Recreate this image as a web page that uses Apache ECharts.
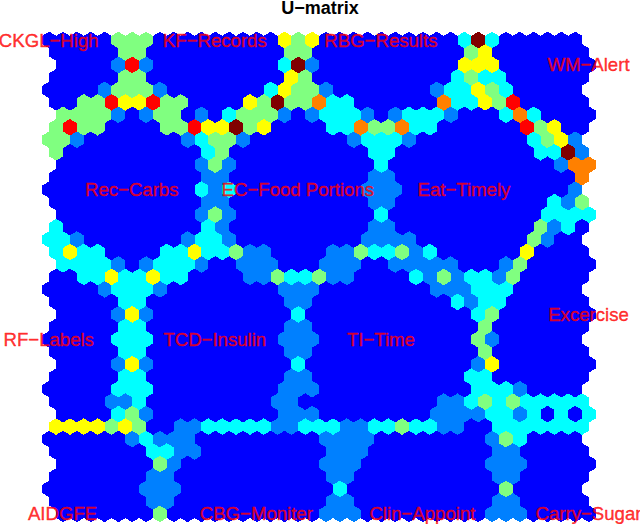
<!DOCTYPE html>
<html>
<head>
<meta charset="utf-8">
<title>U-matrix</title>
<script src="https://cdn.jsdelivr.net/npm/echarts@6/dist/echarts.min.js"></script>
<style>
html, body { margin: 0; padding: 0; background: #fff; }
#umatrix { width: 640px; height: 524px; }
/* hard edges, otherwise thin seams show between the hexagons */
#umatrix path { shape-rendering: crispEdges; }
</style>
</head>
<body>
<div id="umatrix"></div>
<script>
// one digit per hexagon, 39 x 39, digit is the colour band of the u-matrix value
const umatrixRows = [
  '000003330000000004340000000000272000000',
  '000003300000000003300000000000340000000',
  '000016100000000027100000000004440000000',
  '000003300000000004300000000002322000000',
  '000013331000000024331000000012243200000',
  '003364463300004373352200000052243600000',
  '333310133010233310122210122210002520000',
  '363300003364473400002253352200000063400',
  '331000000012331000000012221000000002341',
  '300000000002300000000002200000000002271',
  '000000000013100000000002000000000000155',
  '000000000001100000000001100000000000005',
  '000000000002120000000001110000000000001',
  '000000000001100000000001100000000000213',
  '000000000013100000000002000000000002222',
  '200000000002100000000001100000000003120',
  '221000000012210000000001111000000003100',
  '242200002242231100001132231200000040000',
  '222210122210011100011100111110001300000',
  '002242242200001132231100002131221300000',
  '000012221000000001110000000011122200000',
  '000002200000000001100000000002122000000',
  '000014100000000002000000000000230000000',
  '000002200000000001100000000000030000000',
  '000002220000000001110000000000031000000',
  '000002200000000001100000000000030000000',
  '000014100000000002000000000000140000000',
  '000002200000000001100000000000220000000',
  '000002220000000001110000000000022210000',
  '000011200000000011000000000011232322222',
  '000023100000000011100000000111122120202',
  '444434300112222211222112232211002222222',
  '000000121110000000001111000000001320000',
  '000000022110000000001110000000001100000',
  '000000031000000000011100000000011100000',
  '000000011000000000001100000000001100000',
  '000000011100000000000200000000000300000',
  '000000011000000000001100000000001100000',
  '000000030000000000011100000000011100000'
]
const rowShift = [0, 1, 2, 1]

const labelNames = ['CKGL−High', 'KF−Records', 'RBG−Results', 'WM−Alert', 'Rec−Carbs', 'EC−Food Portions', 'Eat−Timely',
  'Excercise', 'RF−Labels', 'TCD−Insulin', 'TI−Time', 'AIDGFE', 'CBG−Moniter', 'Clin−Appoint', 'Carry−Sugar']
const labelCols = [0, 24, 48, 78, 12, 36, 60, 78, 0, 24, 48, 2, 30, 54, 78]
const labelRows = [0, 0, 0, 2, 12, 12, 12, 22, 24, 24, 24, 38, 38, 38, 38]

const bandColors = ['#0000ff', '#0080ff', '#00ffff', '#80ff80', '#ffff00', '#ff8000', '#ff0000', '#800000']

// x is counted in half cells so that the shifted rows stay on the axis
const cells = []
umatrixRows.forEach(function (row, r) {
  row.split('').forEach(function (band, c) {
    cells.push([2 * c + rowShift[r % 4], r, Number(band)])
  })
})

function renderHex(params, api) {
  const center = api.coord([api.value(0), api.value(1)])
  const unit = api.size([1, 1])
  const w = unit[0]
  const h = unit[1] / 1.5
  return {
    type: 'polygon',
    shape: {
      points: [
        [center[0], center[1] - h],
        [center[0] + w, center[1] - h / 2],
        [center[0] + w, center[1] + h / 2],
        [center[0], center[1] + h],
        [center[0] - w, center[1] + h / 2],
        [center[0] - w, center[1] - h / 2]
      ]
    },
    style: {
      fill: bandColors[api.value(2)]
    }
  }
}

const chart = echarts.init(document.getElementById('umatrix'), null, { renderer: 'svg' })
chart.setOption({
  animation: false,
  title: {
    text: 'U−matrix',
    left: 320,
    top: 0,
    padding: 0,
    textAlign: 'center',
    textStyle: { fontFamily: 'Liberation Sans', fontSize: 18, lineHeight: 15, fontWeight: 'bold', color: '#000' }
  },
  grid: { left: 49.2, top: 40, width: 539.8, height: 473.9 },
  xAxis: { type: 'value', min: 0, max: 78, show: false },
  yAxis: { type: 'value', min: 0, max: 38, inverse: true, show: false },
  series: [
    {
      type: 'custom',
      clip: false,
      silent: true,
      renderItem: renderHex,
      data: cells
    },
    {
      type: 'scatter',
      symbolSize: 0,
      silent: true,
      clip: false,
      z: 5,
      label: {
        show: true,
        position: 'inside',
        offset: [-0.5, 0],
        formatter: function (p) { return p.data[2] },
        fontFamily: 'Liberation Sans',
        fontSize: 18.6,
        color: '#ff0000',
        textBorderColor: '#ff0000',
        textBorderWidth: 0.4
      },
      data: labelNames.map(function (name, i) { return [labelCols[i], labelRows[i], name] })
    }
  ]
})
</script>
</body>
</html>
